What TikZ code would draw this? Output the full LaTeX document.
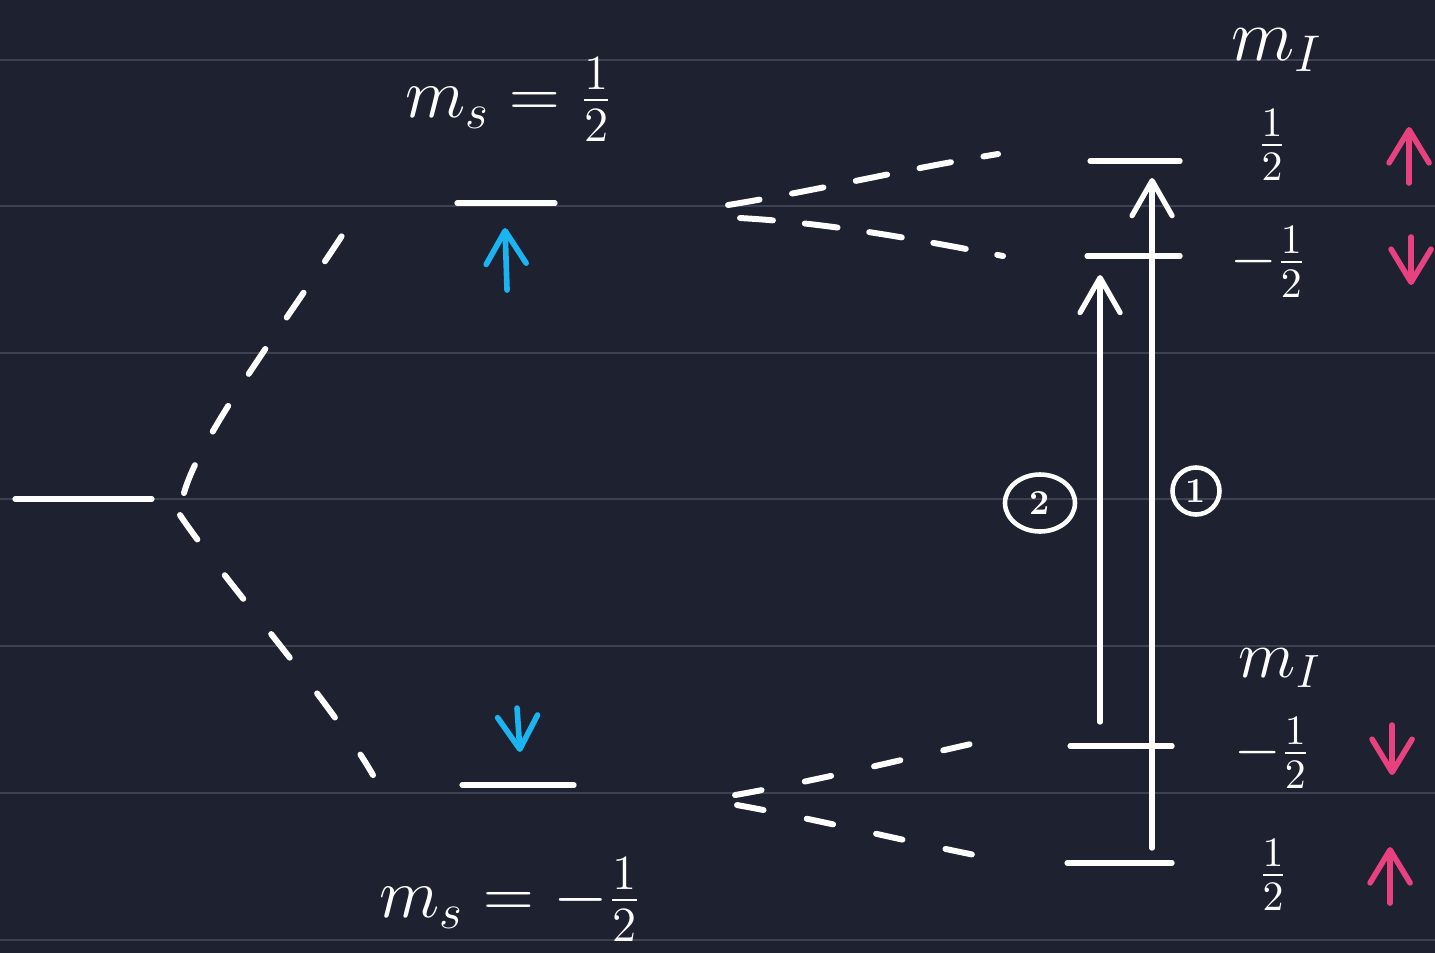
\RequirePackage{fix-cm}
\documentclass[tikz,border=0pt]{standalone}
\usetikzlibrary{arrows.meta,shapes.geometric}
\definecolor{board}{HTML}{1E2230}
\definecolor{ruling}{HTML}{3D4150}
\definecolor{espin}{HTML}{1BB3F0}
\definecolor{nspin}{HTML}{E8417F}
\begin{document}
\begin{tikzpicture}[scale=0.1]
    \tikzstyle{every node}+=[inner sep=0pt, text=white]
    \tikzstyle{level}=[white, line width=1.5pt, line cap=round]
    \tikzstyle{split}=[white, line width=1.7pt, line cap=round, dash pattern=on 3mm off 3.6mm]
    \tikzstyle{spin}=[line width=1.6pt, line cap=round, -{Straight Barb[round,length=3.3mm,width=4mm]}]
    \tikzstyle{trans}=[white, line width=1.5pt, line cap=round, -{Straight Barb[round,length=3.5mm,width=4mm]}]
    \tikzstyle{tag}=[draw=white, line width=1.3pt, font=\bfseries\fontsize{10}{12}\selectfont]
    \fill [board] (0,0) rectangle (143.5,-95.3);
    \useasboundingbox (0,0) rectangle (143.5,-95.3);
    \foreach \y in {6.0,20.6,35.3,49.9,64.6,79.3,94.0}
        \draw [ruling, line width=0.8pt] (0,-\y) -- (143.5,-\y);

    \coordinate (zeroL) at (1.5,-49.9);
    \coordinate (zeroR) at (15.2,-49.9);
    \coordinate (upL) at (45.7,-20.3);
    \coordinate (upR) at (55.5,-20.3);
    \coordinate (dnL) at (46.2,-78.5);
    \coordinate (dnR) at (57.4,-78.5);
    \coordinate (uuL) at (109.0,-16.1);
    \coordinate (uuR) at (118.0,-16.1);
    \coordinate (udL) at (108.7,-25.6);
    \coordinate (udR) at (118.0,-25.6);
    \coordinate (ddL) at (107.0,-74.6);
    \coordinate (ddR) at (117.2,-74.6);
    \coordinate (duL) at (106.7,-86.3);
    \coordinate (duR) at (117.2,-86.3);
    \draw [level] (zeroL) -- (zeroR);
    \draw [level] (upL) -- (upR);
    \draw [level] (dnL) -- (dnR);
    \draw [level] (uuL) -- (uuR);
    \draw [level] (udL) -- (udR);
    \draw [level] (ddL) -- (ddR);
    \draw [level] (duL) -- (duR);

    \coordinate (fanA) at (18.4,-49.3);
    \coordinate (fanB) at (34.7,-22.8);
    \coordinate (fanC) at (18.0,-51.5);
    \coordinate (fanD) at (37.3,-77.5);
    \draw [split, dash pattern=on 3mm off 3.8mm] (fanA) .. controls (20,-43.5) and (29,-31.6) .. (fanB);
    \draw [split, dash pattern=on 3mm off 4.5mm] (fanC) .. controls (22,-57.5) and (33,-70) .. (fanD);
    \coordinate (hfA) at (72.8,-20.5);
    \coordinate (hfB) at (99.8,-15.4);
    \coordinate (hfC) at (74.0,-21.8);
    \coordinate (hfD) at (100.3,-25.6);
    \draw [split, dash pattern=on 3.2mm off 3.3mm] (hfA) .. controls (82,-19) and (90,-17) .. (hfB);
    \draw [split, dash pattern=on 3.3mm off 3.2mm] (hfC) .. controls (83,-22.3) and (92,-24) .. (hfD);
    \coordinate (hfE) at (73.5,-79.5);
    \coordinate (hfF) at (97.5,-74.3);
    \coordinate (hfG) at (73.7,-80.5);
    \coordinate (hfH) at (97.5,-85.5);
    \draw [split, dash pattern=on 2.7mm off 4.4mm] (hfE) .. controls (82,-78) and (90,-76) .. (hfF);
    \draw [split, dash pattern=on 2.7mm off 4.4mm] (hfG) .. controls (82,-82) and (90,-84) .. (hfH);

    \coordinate (eUa) at (50.7,-29.0);
    \coordinate (eUb) at (50.5,-22.8);
    \coordinate (eDa) at (51.7,-70.8);
    \coordinate (eDb) at (52.0,-75.2);
    \draw [spin, espin] (eUa) -- (eUb);
    \draw [spin, espin] (eDa) -- (eDb);
    \coordinate (nUa) at (140.9,-18.3);
    \coordinate (nUb) at (140.9,-12.7);
    \coordinate (nDa) at (141.1,-23.7);
    \coordinate (nDb) at (141.1,-28.5);
    \coordinate (mDa) at (139.2,-72.5);
    \coordinate (mDb) at (139.2,-77.5);
    \coordinate (mUa) at (139.0,-90.3);
    \coordinate (mUb) at (139.0,-84.7);
    \draw [spin, nspin] (nUa) -- (nUb);
    \draw [spin, nspin] (nDa) -- (nDb);
    \draw [spin, nspin] (mDa) -- (mDb);
    \draw [spin, nspin] (mUa) -- (mUb);

    \coordinate (t1a) at (115.2,-84.8);
    \coordinate (t1b) at (115.2,-17.8);
    \coordinate (t2a) at (110.0,-72.2);
    \coordinate (t2b) at (110.0,-27.5);
    \draw [trans] (t1a) -- (t1b);
    \draw [trans] (t2a) -- (t2b);
    \node [tag, ellipse, minimum width=7mm, minimum height=5.7mm] (c2) at (104.0,-50.3) {2};
    \node [tag, circle, minimum size=4.7mm] (c1) at (119.6,-49.1) {1};

    \node (msup) at (50.9,-10.0) {\fontsize{20}{24}\selectfont $m_s = \frac{1}{2}$};
    \node (msdn) at (51.0,-90.0) {\fontsize{20}{24}\selectfont $m_s = -\frac{1}{2}$};
    \node (mIup) at (127.7,-5.0) {\fontsize{21}{25}\selectfont $m_I$};
    \node (mIdn) at (128.0,-66.8) {\fontsize{19}{23}\selectfont $m_I$};
    \node (fUu) at (127.2,-14.5) {\fontsize{17}{20}\selectfont $\frac{1}{2}$};
    \node (fUd) at (126.8,-26.2) {\fontsize{17}{20}\selectfont $-\frac{1}{2}$};
    \node (fDd) at (127.2,-75.3) {\fontsize{17}{20}\selectfont $-\frac{1}{2}$};
    \node (fDu) at (127.3,-87.5) {\fontsize{17}{20}\selectfont $\frac{1}{2}$};
\end{tikzpicture}
\end{document}
